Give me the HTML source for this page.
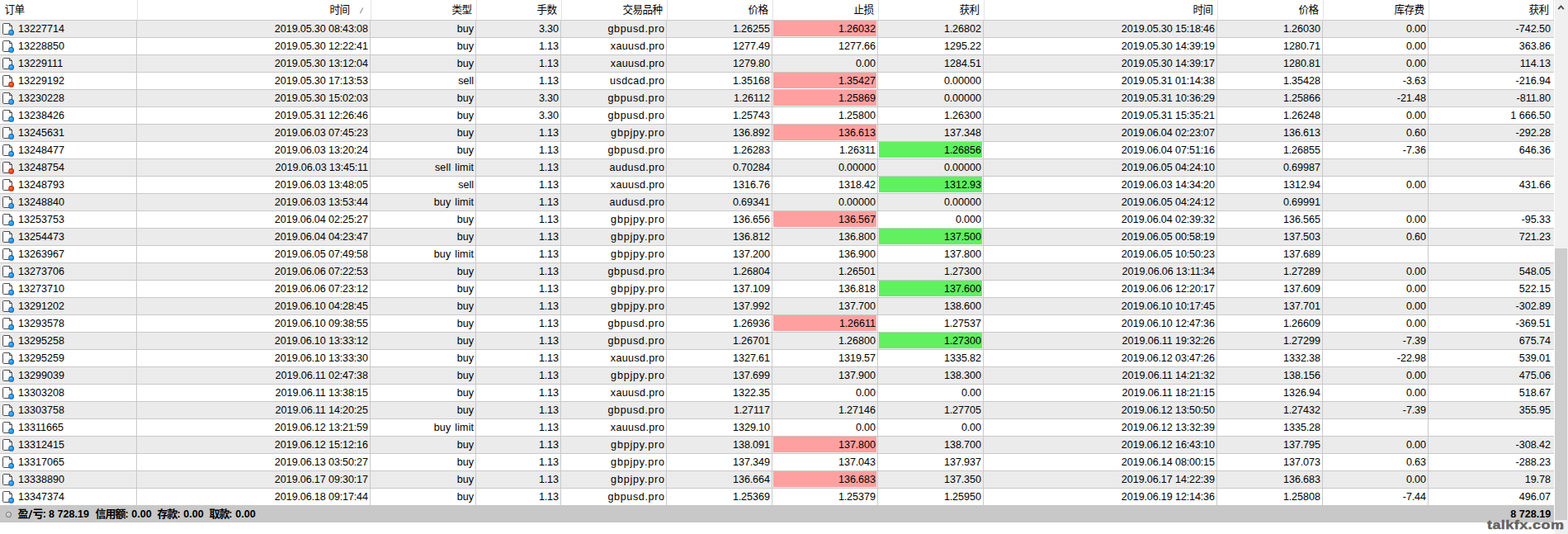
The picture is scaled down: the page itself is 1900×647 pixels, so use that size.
<!DOCTYPE html>
<html><head><meta charset="utf-8"><title>history</title>
<style>
html,body{margin:0;padding:0;background:#fff;}
body{width:1900px;height:647px;position:relative;overflow:hidden;font-family:"Liberation Sans",sans-serif;font-size:12.6px;color:#000;}
.a{position:absolute;display:block;}
.r{position:absolute;left:0;width:1883px;height:20px;}
.g{background:#ebebeb;}
.c{position:absolute;top:0px;height:20px;line-height:20px;white-space:pre;text-align:right;}
.o{left:22px;text-align:left;}
.hl{position:absolute;left:0;width:1883px;height:1px;background:#c9c9c9;}
.vl{position:absolute;top:24px;width:1px;height:588px;background:#c9c9c9;}
.hs{position:absolute;top:0;width:1px;height:24px;background:#e3e3e3;}
.p{position:absolute;top:0;height:19px;}
.ic{position:absolute;left:2px;top:2px;}
.b{font-weight:bold;}
i{font-style:normal;margin:0 -.23px;}
.k0,.k7{word-spacing:-.4px;}
.ht{font-family:"Liberation Sans","Noto Sans CJK SC",sans-serif;font-size:12.6px;fill:#000;}
.ft{font-family:"Liberation Sans","Noto Sans CJK SC",sans-serif;font-size:13px;font-weight:bold;fill:#000;}
</style></head><body>
<svg width="0" height="0" style="position:absolute"><defs>
<linearGradient id="pg" x1="0" y1="0" x2="1" y2="1"><stop offset="0" stop-color="#fff"/><stop offset=".55" stop-color="#fafafa"/><stop offset="1" stop-color="#d8d8d8"/></linearGradient>
<radialGradient id="bb" cx=".38" cy=".32" r=".75"><stop offset="0" stop-color="#5cbcfa"/><stop offset=".55" stop-color="#2a9cf0"/><stop offset="1" stop-color="#1a86dc"/></radialGradient>
<radialGradient id="rr" cx=".38" cy=".32" r=".75"><stop offset="0" stop-color="#ff7444"/><stop offset=".55" stop-color="#f24c14"/><stop offset="1" stop-color="#dc3c0a"/></radialGradient>
<g id="pgi"><path d="M2.7 1.5H9.5L12.5 4.5V13.3Q12.5 14.5 11.3 14.5H2.7Q1.5 14.5 1.5 13.3V2.7Q1.5 1.5 2.7 1.5Z" fill="url(#pg)" stroke="#4e4e4e" stroke-width="1"/><path d="M9.5 1.7V4.5H12.3Z" fill="#fff" stroke="#4e4e4e" stroke-width="1" stroke-linejoin="round"/></g>
<g id="ib"><use href="#pgi"/><circle cx="11.65" cy="12.45" r="3.35" fill="#0f5f9f"/><circle cx="11.65" cy="12.45" r="2.55" fill="url(#bb)"/></g>
<g id="ir"><use href="#pgi"/><circle cx="11.65" cy="12.45" r="3.35" fill="#a02c08"/><circle cx="11.65" cy="12.45" r="2.55" fill="url(#rr)"/></g>
</defs></svg>
<svg class="a" style="left:5px;top:3.35px;" width="26" height="18" viewBox="0 -2 26 18"><text class="ht" x="0.5 12.5" y="10.65">订单</text></svg><svg class="a" style="left:399px;top:3.35px;" width="26" height="18" viewBox="0 -2 26 18"><text class="ht" x="0.5 12.5" y="10.65">时间</text></svg><svg class="a" style="left:547px;top:3.35px;" width="26" height="18" viewBox="0 -2 26 18"><text class="ht" x="0.5 12.5" y="10.65">类型</text></svg><svg class="a" style="left:650px;top:3.35px;" width="26" height="18" viewBox="0 -2 26 18"><text class="ht" x="0.5 12.5" y="10.65">手数</text></svg><svg class="a" style="left:754px;top:3.35px;" width="50" height="18" viewBox="0 -2 50 18"><text class="ht" x="0.5 12.5 24.5 36.5" y="10.65">交易品种</text></svg><svg class="a" style="left:906px;top:3.35px;" width="26" height="18" viewBox="0 -2 26 18"><text class="ht" x="0.5 12.5" y="10.65">价格</text></svg><svg class="a" style="left:1034px;top:3.35px;" width="26" height="18" viewBox="0 -2 26 18"><text class="ht" x="0.5 12.5" y="10.65">止损</text></svg><svg class="a" style="left:1162px;top:3.35px;" width="26" height="18" viewBox="0 -2 26 18"><text class="ht" x="0.5 12.5" y="10.65">获利</text></svg><svg class="a" style="left:1445px;top:3.35px;" width="26" height="18" viewBox="0 -2 26 18"><text class="ht" x="0.5 12.5" y="10.65">时间</text></svg><svg class="a" style="left:1573px;top:3.35px;" width="26" height="18" viewBox="0 -2 26 18"><text class="ht" x="0.5 12.5" y="10.65">价格</text></svg><svg class="a" style="left:1689px;top:3.35px;" width="38" height="18" viewBox="0 -2 38 18"><text class="ht" x="0.5 12.5 24.5" y="10.65">库存费</text></svg><svg class="a" style="left:1851.5px;top:3.35px;" width="26" height="18" viewBox="0 -2 26 18"><text class="ht" x="0.5 12.5" y="10.65">获利</text></svg><div class="hs" style="left:166px"></div><div class="hs" style="left:449px"></div><div class="hs" style="left:577px"></div><div class="hs" style="left:680px"></div><div class="hs" style="left:808px"></div><div class="hs" style="left:936px"></div><div class="hs" style="left:1064px"></div><div class="hs" style="left:1192px"></div><div class="hs" style="left:1475px"></div><div class="hs" style="left:1603px"></div><div class="hs" style="left:1731px"></div><svg class="a" style="left:434px;top:8px" width="8" height="10"><path d="M2.4 8.2L5.8 1.4" stroke="#777" stroke-width="1" fill="none"/></svg><div class="r g" style="top:25px"><svg class="ic" width="16" height="18"><use href="#ib"/></svg><div class="c o">13227714</div><div class="c k0" style="left:166px;width:280.1px">2019<i>.</i>05<i>.</i>30 08<i>:</i>43<i>:</i>08</div><div class="c k1" style="left:449px;width:125.1px">buy</div><div class="c k2" style="left:577px;width:100.1px">3<i>.</i>30</div><div class="c k3" style="left:680px;width:125.73px;letter-spacing:0.63px">gbpusd.pro</div><div class="c k4" style="left:808px;width:125.1px">1<i>.</i>26255</div><div class="p" style="left:937px;width:125px;background:#ffa0a0"></div><div class="c k5" style="left:936px;width:125.1px">1<i>.</i>26032</div><div class="c k6" style="left:1064px;width:125.1px">1<i>.</i>26802</div><div class="c k7" style="left:1192px;width:280.1px">2019<i>.</i>05<i>.</i>30 15<i>:</i>18<i>:</i>46</div><div class="c k8" style="left:1475px;width:125.1px">1<i>.</i>26030</div><div class="c k9" style="left:1603px;width:125.1px">0<i>.</i>00</div><div class="c k10" style="left:1731px;width:147.9px">-742<i>.</i>50</div></div>
<div class="r" style="top:46px"><svg class="ic" width="16" height="18"><use href="#ib"/></svg><div class="c o">13228850</div><div class="c k0" style="left:166px;width:280.1px">2019<i>.</i>05<i>.</i>30 12<i>:</i>22<i>:</i>41</div><div class="c k1" style="left:449px;width:125.1px">buy</div><div class="c k2" style="left:577px;width:100.1px">1<i>.</i>13</div><div class="c k3" style="left:680px;width:125.43px;letter-spacing:0.33px">xauusd.pro</div><div class="c k4" style="left:808px;width:125.1px">1277<i>.</i>49</div><div class="c k5" style="left:936px;width:125.1px">1277<i>.</i>66</div><div class="c k6" style="left:1064px;width:125.1px">1295<i>.</i>22</div><div class="c k7" style="left:1192px;width:280.1px">2019<i>.</i>05<i>.</i>30 14<i>:</i>39<i>:</i>19</div><div class="c k8" style="left:1475px;width:125.1px">1280<i>.</i>71</div><div class="c k9" style="left:1603px;width:125.1px">0<i>.</i>00</div><div class="c k10" style="left:1731px;width:147.9px">363<i>.</i>86</div></div>
<div class="r g" style="top:67px"><svg class="ic" width="16" height="18"><use href="#ib"/></svg><div class="c o">13229111</div><div class="c k0" style="left:166px;width:280.1px">2019<i>.</i>05<i>.</i>30 13<i>:</i>12<i>:</i>04</div><div class="c k1" style="left:449px;width:125.1px">buy</div><div class="c k2" style="left:577px;width:100.1px">1<i>.</i>13</div><div class="c k3" style="left:680px;width:125.43px;letter-spacing:0.33px">xauusd.pro</div><div class="c k4" style="left:808px;width:125.1px">1279<i>.</i>80</div><div class="c k5" style="left:936px;width:125.1px">0<i>.</i>00</div><div class="c k6" style="left:1064px;width:125.1px">1284<i>.</i>51</div><div class="c k7" style="left:1192px;width:280.1px">2019<i>.</i>05<i>.</i>30 14<i>:</i>39<i>:</i>17</div><div class="c k8" style="left:1475px;width:125.1px">1280<i>.</i>81</div><div class="c k9" style="left:1603px;width:125.1px">0<i>.</i>00</div><div class="c k10" style="left:1731px;width:147.9px">114<i>.</i>13</div></div>
<div class="r" style="top:88px"><svg class="ic" width="16" height="18"><use href="#ir"/></svg><div class="c o">13229192</div><div class="c k0" style="left:166px;width:280.1px">2019<i>.</i>05<i>.</i>30 17<i>:</i>13<i>:</i>53</div><div class="c k1" style="left:449px;width:125.1px">sell</div><div class="c k2" style="left:577px;width:100.1px">1<i>.</i>13</div><div class="c k3" style="left:680px;width:125.51px;letter-spacing:0.41px">usdcad.pro</div><div class="c k4" style="left:808px;width:125.1px">1<i>.</i>35168</div><div class="p" style="left:937px;width:125px;background:#ffa0a0"></div><div class="c k5" style="left:936px;width:125.1px">1<i>.</i>35427</div><div class="c k6" style="left:1064px;width:125.1px">0<i>.</i>00000</div><div class="c k7" style="left:1192px;width:280.1px">2019<i>.</i>05<i>.</i>31 01<i>:</i>14<i>:</i>38</div><div class="c k8" style="left:1475px;width:125.1px">1<i>.</i>35428</div><div class="c k9" style="left:1603px;width:125.1px">-3<i>.</i>63</div><div class="c k10" style="left:1731px;width:147.9px">-216<i>.</i>94</div></div>
<div class="r g" style="top:109px"><svg class="ic" width="16" height="18"><use href="#ib"/></svg><div class="c o">13230228</div><div class="c k0" style="left:166px;width:280.1px">2019<i>.</i>05<i>.</i>30 15<i>:</i>02<i>:</i>03</div><div class="c k1" style="left:449px;width:125.1px">buy</div><div class="c k2" style="left:577px;width:100.1px">3<i>.</i>30</div><div class="c k3" style="left:680px;width:125.73px;letter-spacing:0.63px">gbpusd.pro</div><div class="c k4" style="left:808px;width:125.1px">1<i>.</i>26112</div><div class="p" style="left:937px;width:125px;background:#ffa0a0"></div><div class="c k5" style="left:936px;width:125.1px">1<i>.</i>25869</div><div class="c k6" style="left:1064px;width:125.1px">0<i>.</i>00000</div><div class="c k7" style="left:1192px;width:280.1px">2019<i>.</i>05<i>.</i>31 10<i>:</i>36<i>:</i>29</div><div class="c k8" style="left:1475px;width:125.1px">1<i>.</i>25866</div><div class="c k9" style="left:1603px;width:125.1px">-21<i>.</i>48</div><div class="c k10" style="left:1731px;width:147.9px">-811<i>.</i>80</div></div>
<div class="r" style="top:130px"><svg class="ic" width="16" height="18"><use href="#ib"/></svg><div class="c o">13238426</div><div class="c k0" style="left:166px;width:280.1px">2019<i>.</i>05<i>.</i>31 12<i>:</i>26<i>:</i>46</div><div class="c k1" style="left:449px;width:125.1px">buy</div><div class="c k2" style="left:577px;width:100.1px">3<i>.</i>30</div><div class="c k3" style="left:680px;width:125.73px;letter-spacing:0.63px">gbpusd.pro</div><div class="c k4" style="left:808px;width:125.1px">1<i>.</i>25743</div><div class="c k5" style="left:936px;width:125.1px">1<i>.</i>25800</div><div class="c k6" style="left:1064px;width:125.1px">1<i>.</i>26300</div><div class="c k7" style="left:1192px;width:280.1px">2019<i>.</i>05<i>.</i>31 15<i>:</i>35<i>:</i>21</div><div class="c k8" style="left:1475px;width:125.1px">1<i>.</i>26248</div><div class="c k9" style="left:1603px;width:125.1px">0<i>.</i>00</div><div class="c k10" style="left:1731px;width:147.9px">1 666<i>.</i>50</div></div>
<div class="r g" style="top:151px"><svg class="ic" width="16" height="18"><use href="#ib"/></svg><div class="c o">13245631</div><div class="c k0" style="left:166px;width:280.1px">2019<i>.</i>06<i>.</i>03 07<i>:</i>45<i>:</i>23</div><div class="c k1" style="left:449px;width:125.1px">buy</div><div class="c k2" style="left:577px;width:100.1px">1<i>.</i>13</div><div class="c k3" style="left:680px;width:125.89px;letter-spacing:0.79px">gbpjpy.pro</div><div class="c k4" style="left:808px;width:125.1px">136<i>.</i>892</div><div class="p" style="left:937px;width:125px;background:#ffa0a0"></div><div class="c k5" style="left:936px;width:125.1px">136<i>.</i>613</div><div class="c k6" style="left:1064px;width:125.1px">137<i>.</i>348</div><div class="c k7" style="left:1192px;width:280.1px">2019<i>.</i>06<i>.</i>04 02<i>:</i>23<i>:</i>07</div><div class="c k8" style="left:1475px;width:125.1px">136<i>.</i>613</div><div class="c k9" style="left:1603px;width:125.1px">0<i>.</i>60</div><div class="c k10" style="left:1731px;width:147.9px">-292<i>.</i>28</div></div>
<div class="r" style="top:172px"><svg class="ic" width="16" height="18"><use href="#ib"/></svg><div class="c o">13248477</div><div class="c k0" style="left:166px;width:280.1px">2019<i>.</i>06<i>.</i>03 13<i>:</i>20<i>:</i>24</div><div class="c k1" style="left:449px;width:125.1px">buy</div><div class="c k2" style="left:577px;width:100.1px">1<i>.</i>13</div><div class="c k3" style="left:680px;width:125.73px;letter-spacing:0.63px">gbpusd.pro</div><div class="c k4" style="left:808px;width:125.1px">1<i>.</i>26283</div><div class="c k5" style="left:936px;width:125.1px">1<i>.</i>26311</div><div class="p" style="left:1065px;width:125px;background:#60f060"></div><div class="c k6" style="left:1064px;width:125.1px">1<i>.</i>26856</div><div class="c k7" style="left:1192px;width:280.1px">2019<i>.</i>06<i>.</i>04 07<i>:</i>51<i>:</i>16</div><div class="c k8" style="left:1475px;width:125.1px">1<i>.</i>26855</div><div class="c k9" style="left:1603px;width:125.1px">-7<i>.</i>36</div><div class="c k10" style="left:1731px;width:147.9px">646<i>.</i>36</div></div>
<div class="r g" style="top:193px"><svg class="ic" width="16" height="18"><use href="#ir"/></svg><div class="c o">13248754</div><div class="c k0" style="left:166px;width:280.1px">2019<i>.</i>06<i>.</i>03 13<i>:</i>45<i>:</i>11</div><div class="c k1" style="left:449px;width:125.22px;letter-spacing:.12px;word-spacing:1.3px">sell limit</div><div class="c k2" style="left:577px;width:100.1px">1<i>.</i>13</div><div class="c k3" style="left:680px;width:125.51px;letter-spacing:0.41px">audusd.pro</div><div class="c k4" style="left:808px;width:125.1px">0<i>.</i>70284</div><div class="c k5" style="left:936px;width:125.1px">0<i>.</i>00000</div><div class="c k6" style="left:1064px;width:125.1px">0<i>.</i>00000</div><div class="c k7" style="left:1192px;width:280.1px">2019<i>.</i>06<i>.</i>05 04<i>:</i>24<i>:</i>10</div><div class="c k8" style="left:1475px;width:125.1px">0<i>.</i>69987</div></div>
<div class="r" style="top:214px"><svg class="ic" width="16" height="18"><use href="#ir"/></svg><div class="c o">13248793</div><div class="c k0" style="left:166px;width:280.1px">2019<i>.</i>06<i>.</i>03 13<i>:</i>48<i>:</i>05</div><div class="c k1" style="left:449px;width:125.1px">sell</div><div class="c k2" style="left:577px;width:100.1px">1<i>.</i>13</div><div class="c k3" style="left:680px;width:125.43px;letter-spacing:0.33px">xauusd.pro</div><div class="c k4" style="left:808px;width:125.1px">1316<i>.</i>76</div><div class="c k5" style="left:936px;width:125.1px">1318<i>.</i>42</div><div class="p" style="left:1065px;width:125px;background:#60f060"></div><div class="c k6" style="left:1064px;width:125.1px">1312<i>.</i>93</div><div class="c k7" style="left:1192px;width:280.1px">2019<i>.</i>06<i>.</i>03 14<i>:</i>34<i>:</i>20</div><div class="c k8" style="left:1475px;width:125.1px">1312<i>.</i>94</div><div class="c k9" style="left:1603px;width:125.1px">0<i>.</i>00</div><div class="c k10" style="left:1731px;width:147.9px">431<i>.</i>66</div></div>
<div class="r g" style="top:235px"><svg class="ic" width="16" height="18"><use href="#ib"/></svg><div class="c o">13248840</div><div class="c k0" style="left:166px;width:280.1px">2019<i>.</i>06<i>.</i>03 13<i>:</i>53<i>:</i>44</div><div class="c k1" style="left:449px;width:125.22px;letter-spacing:.12px;word-spacing:1.3px">buy limit</div><div class="c k2" style="left:577px;width:100.1px">1<i>.</i>13</div><div class="c k3" style="left:680px;width:125.51px;letter-spacing:0.41px">audusd.pro</div><div class="c k4" style="left:808px;width:125.1px">0<i>.</i>69341</div><div class="c k5" style="left:936px;width:125.1px">0<i>.</i>00000</div><div class="c k6" style="left:1064px;width:125.1px">0<i>.</i>00000</div><div class="c k7" style="left:1192px;width:280.1px">2019<i>.</i>06<i>.</i>05 04<i>:</i>24<i>:</i>12</div><div class="c k8" style="left:1475px;width:125.1px">0<i>.</i>69991</div></div>
<div class="r" style="top:256px"><svg class="ic" width="16" height="18"><use href="#ib"/></svg><div class="c o">13253753</div><div class="c k0" style="left:166px;width:280.1px">2019<i>.</i>06<i>.</i>04 02<i>:</i>25<i>:</i>27</div><div class="c k1" style="left:449px;width:125.1px">buy</div><div class="c k2" style="left:577px;width:100.1px">1<i>.</i>13</div><div class="c k3" style="left:680px;width:125.89px;letter-spacing:0.79px">gbpjpy.pro</div><div class="c k4" style="left:808px;width:125.1px">136<i>.</i>656</div><div class="p" style="left:937px;width:125px;background:#ffa0a0"></div><div class="c k5" style="left:936px;width:125.1px">136<i>.</i>567</div><div class="c k6" style="left:1064px;width:125.1px">0<i>.</i>000</div><div class="c k7" style="left:1192px;width:280.1px">2019<i>.</i>06<i>.</i>04 02<i>:</i>39<i>:</i>32</div><div class="c k8" style="left:1475px;width:125.1px">136<i>.</i>565</div><div class="c k9" style="left:1603px;width:125.1px">0<i>.</i>00</div><div class="c k10" style="left:1731px;width:147.9px">-95<i>.</i>33</div></div>
<div class="r g" style="top:277px"><svg class="ic" width="16" height="18"><use href="#ib"/></svg><div class="c o">13254473</div><div class="c k0" style="left:166px;width:280.1px">2019<i>.</i>06<i>.</i>04 04<i>:</i>23<i>:</i>47</div><div class="c k1" style="left:449px;width:125.1px">buy</div><div class="c k2" style="left:577px;width:100.1px">1<i>.</i>13</div><div class="c k3" style="left:680px;width:125.89px;letter-spacing:0.79px">gbpjpy.pro</div><div class="c k4" style="left:808px;width:125.1px">136<i>.</i>812</div><div class="c k5" style="left:936px;width:125.1px">136<i>.</i>800</div><div class="p" style="left:1065px;width:125px;background:#60f060"></div><div class="c k6" style="left:1064px;width:125.1px">137<i>.</i>500</div><div class="c k7" style="left:1192px;width:280.1px">2019<i>.</i>06<i>.</i>05 00<i>:</i>58<i>:</i>19</div><div class="c k8" style="left:1475px;width:125.1px">137<i>.</i>503</div><div class="c k9" style="left:1603px;width:125.1px">0<i>.</i>60</div><div class="c k10" style="left:1731px;width:147.9px">721<i>.</i>23</div></div>
<div class="r" style="top:298px"><svg class="ic" width="16" height="18"><use href="#ib"/></svg><div class="c o">13263967</div><div class="c k0" style="left:166px;width:280.1px">2019<i>.</i>06<i>.</i>05 07<i>:</i>49<i>:</i>58</div><div class="c k1" style="left:449px;width:125.22px;letter-spacing:.12px;word-spacing:1.3px">buy limit</div><div class="c k2" style="left:577px;width:100.1px">1<i>.</i>13</div><div class="c k3" style="left:680px;width:125.89px;letter-spacing:0.79px">gbpjpy.pro</div><div class="c k4" style="left:808px;width:125.1px">137<i>.</i>200</div><div class="c k5" style="left:936px;width:125.1px">136<i>.</i>900</div><div class="c k6" style="left:1064px;width:125.1px">137<i>.</i>800</div><div class="c k7" style="left:1192px;width:280.1px">2019<i>.</i>06<i>.</i>05 10<i>:</i>50<i>:</i>23</div><div class="c k8" style="left:1475px;width:125.1px">137<i>.</i>689</div></div>
<div class="r g" style="top:319px"><svg class="ic" width="16" height="18"><use href="#ib"/></svg><div class="c o">13273706</div><div class="c k0" style="left:166px;width:280.1px">2019<i>.</i>06<i>.</i>06 07<i>:</i>22<i>:</i>53</div><div class="c k1" style="left:449px;width:125.1px">buy</div><div class="c k2" style="left:577px;width:100.1px">1<i>.</i>13</div><div class="c k3" style="left:680px;width:125.73px;letter-spacing:0.63px">gbpusd.pro</div><div class="c k4" style="left:808px;width:125.1px">1<i>.</i>26804</div><div class="c k5" style="left:936px;width:125.1px">1<i>.</i>26501</div><div class="c k6" style="left:1064px;width:125.1px">1<i>.</i>27300</div><div class="c k7" style="left:1192px;width:280.1px">2019<i>.</i>06<i>.</i>06 13<i>:</i>11<i>:</i>34</div><div class="c k8" style="left:1475px;width:125.1px">1<i>.</i>27289</div><div class="c k9" style="left:1603px;width:125.1px">0<i>.</i>00</div><div class="c k10" style="left:1731px;width:147.9px">548<i>.</i>05</div></div>
<div class="r" style="top:340px"><svg class="ic" width="16" height="18"><use href="#ib"/></svg><div class="c o">13273710</div><div class="c k0" style="left:166px;width:280.1px">2019<i>.</i>06<i>.</i>06 07<i>:</i>23<i>:</i>12</div><div class="c k1" style="left:449px;width:125.1px">buy</div><div class="c k2" style="left:577px;width:100.1px">1<i>.</i>13</div><div class="c k3" style="left:680px;width:125.89px;letter-spacing:0.79px">gbpjpy.pro</div><div class="c k4" style="left:808px;width:125.1px">137<i>.</i>109</div><div class="c k5" style="left:936px;width:125.1px">136<i>.</i>818</div><div class="p" style="left:1065px;width:125px;background:#60f060"></div><div class="c k6" style="left:1064px;width:125.1px">137<i>.</i>600</div><div class="c k7" style="left:1192px;width:280.1px">2019<i>.</i>06<i>.</i>06 12<i>:</i>20<i>:</i>17</div><div class="c k8" style="left:1475px;width:125.1px">137<i>.</i>609</div><div class="c k9" style="left:1603px;width:125.1px">0<i>.</i>00</div><div class="c k10" style="left:1731px;width:147.9px">522<i>.</i>15</div></div>
<div class="r g" style="top:361px"><svg class="ic" width="16" height="18"><use href="#ib"/></svg><div class="c o">13291202</div><div class="c k0" style="left:166px;width:280.1px">2019<i>.</i>06<i>.</i>10 04<i>:</i>28<i>:</i>45</div><div class="c k1" style="left:449px;width:125.1px">buy</div><div class="c k2" style="left:577px;width:100.1px">1<i>.</i>13</div><div class="c k3" style="left:680px;width:125.89px;letter-spacing:0.79px">gbpjpy.pro</div><div class="c k4" style="left:808px;width:125.1px">137<i>.</i>992</div><div class="c k5" style="left:936px;width:125.1px">137<i>.</i>700</div><div class="c k6" style="left:1064px;width:125.1px">138<i>.</i>600</div><div class="c k7" style="left:1192px;width:280.1px">2019<i>.</i>06<i>.</i>10 10<i>:</i>17<i>:</i>45</div><div class="c k8" style="left:1475px;width:125.1px">137<i>.</i>701</div><div class="c k9" style="left:1603px;width:125.1px">0<i>.</i>00</div><div class="c k10" style="left:1731px;width:147.9px">-302<i>.</i>89</div></div>
<div class="r" style="top:382px"><svg class="ic" width="16" height="18"><use href="#ib"/></svg><div class="c o">13293578</div><div class="c k0" style="left:166px;width:280.1px">2019<i>.</i>06<i>.</i>10 09<i>:</i>38<i>:</i>55</div><div class="c k1" style="left:449px;width:125.1px">buy</div><div class="c k2" style="left:577px;width:100.1px">1<i>.</i>13</div><div class="c k3" style="left:680px;width:125.73px;letter-spacing:0.63px">gbpusd.pro</div><div class="c k4" style="left:808px;width:125.1px">1<i>.</i>26936</div><div class="p" style="left:937px;width:125px;background:#ffa0a0"></div><div class="c k5" style="left:936px;width:125.1px">1<i>.</i>26611</div><div class="c k6" style="left:1064px;width:125.1px">1<i>.</i>27537</div><div class="c k7" style="left:1192px;width:280.1px">2019<i>.</i>06<i>.</i>10 12<i>:</i>47<i>:</i>36</div><div class="c k8" style="left:1475px;width:125.1px">1<i>.</i>26609</div><div class="c k9" style="left:1603px;width:125.1px">0<i>.</i>00</div><div class="c k10" style="left:1731px;width:147.9px">-369<i>.</i>51</div></div>
<div class="r g" style="top:403px"><svg class="ic" width="16" height="18"><use href="#ib"/></svg><div class="c o">13295258</div><div class="c k0" style="left:166px;width:280.1px">2019<i>.</i>06<i>.</i>10 13<i>:</i>33<i>:</i>12</div><div class="c k1" style="left:449px;width:125.1px">buy</div><div class="c k2" style="left:577px;width:100.1px">1<i>.</i>13</div><div class="c k3" style="left:680px;width:125.73px;letter-spacing:0.63px">gbpusd.pro</div><div class="c k4" style="left:808px;width:125.1px">1<i>.</i>26701</div><div class="c k5" style="left:936px;width:125.1px">1<i>.</i>26800</div><div class="p" style="left:1065px;width:125px;background:#60f060"></div><div class="c k6" style="left:1064px;width:125.1px">1<i>.</i>27300</div><div class="c k7" style="left:1192px;width:280.1px">2019<i>.</i>06<i>.</i>11 19<i>:</i>32<i>:</i>26</div><div class="c k8" style="left:1475px;width:125.1px">1<i>.</i>27299</div><div class="c k9" style="left:1603px;width:125.1px">-7<i>.</i>39</div><div class="c k10" style="left:1731px;width:147.9px">675<i>.</i>74</div></div>
<div class="r" style="top:424px"><svg class="ic" width="16" height="18"><use href="#ib"/></svg><div class="c o">13295259</div><div class="c k0" style="left:166px;width:280.1px">2019<i>.</i>06<i>.</i>10 13<i>:</i>33<i>:</i>30</div><div class="c k1" style="left:449px;width:125.1px">buy</div><div class="c k2" style="left:577px;width:100.1px">1<i>.</i>13</div><div class="c k3" style="left:680px;width:125.43px;letter-spacing:0.33px">xauusd.pro</div><div class="c k4" style="left:808px;width:125.1px">1327<i>.</i>61</div><div class="c k5" style="left:936px;width:125.1px">1319<i>.</i>57</div><div class="c k6" style="left:1064px;width:125.1px">1335<i>.</i>82</div><div class="c k7" style="left:1192px;width:280.1px">2019<i>.</i>06<i>.</i>12 03<i>:</i>47<i>:</i>26</div><div class="c k8" style="left:1475px;width:125.1px">1332<i>.</i>38</div><div class="c k9" style="left:1603px;width:125.1px">-22<i>.</i>98</div><div class="c k10" style="left:1731px;width:147.9px">539<i>.</i>01</div></div>
<div class="r g" style="top:445px"><svg class="ic" width="16" height="18"><use href="#ib"/></svg><div class="c o">13299039</div><div class="c k0" style="left:166px;width:280.1px">2019<i>.</i>06<i>.</i>11 02<i>:</i>47<i>:</i>38</div><div class="c k1" style="left:449px;width:125.1px">buy</div><div class="c k2" style="left:577px;width:100.1px">1<i>.</i>13</div><div class="c k3" style="left:680px;width:125.89px;letter-spacing:0.79px">gbpjpy.pro</div><div class="c k4" style="left:808px;width:125.1px">137<i>.</i>699</div><div class="c k5" style="left:936px;width:125.1px">137<i>.</i>900</div><div class="c k6" style="left:1064px;width:125.1px">138<i>.</i>300</div><div class="c k7" style="left:1192px;width:280.1px">2019<i>.</i>06<i>.</i>11 14<i>:</i>21<i>:</i>32</div><div class="c k8" style="left:1475px;width:125.1px">138<i>.</i>156</div><div class="c k9" style="left:1603px;width:125.1px">0<i>.</i>00</div><div class="c k10" style="left:1731px;width:147.9px">475<i>.</i>06</div></div>
<div class="r" style="top:466px"><svg class="ic" width="16" height="18"><use href="#ib"/></svg><div class="c o">13303208</div><div class="c k0" style="left:166px;width:280.1px">2019<i>.</i>06<i>.</i>11 13<i>:</i>38<i>:</i>15</div><div class="c k1" style="left:449px;width:125.1px">buy</div><div class="c k2" style="left:577px;width:100.1px">1<i>.</i>13</div><div class="c k3" style="left:680px;width:125.43px;letter-spacing:0.33px">xauusd.pro</div><div class="c k4" style="left:808px;width:125.1px">1322<i>.</i>35</div><div class="c k5" style="left:936px;width:125.1px">0<i>.</i>00</div><div class="c k6" style="left:1064px;width:125.1px">0<i>.</i>00</div><div class="c k7" style="left:1192px;width:280.1px">2019<i>.</i>06<i>.</i>11 18<i>:</i>21<i>:</i>15</div><div class="c k8" style="left:1475px;width:125.1px">1326<i>.</i>94</div><div class="c k9" style="left:1603px;width:125.1px">0<i>.</i>00</div><div class="c k10" style="left:1731px;width:147.9px">518<i>.</i>67</div></div>
<div class="r g" style="top:487px"><svg class="ic" width="16" height="18"><use href="#ib"/></svg><div class="c o">13303758</div><div class="c k0" style="left:166px;width:280.1px">2019<i>.</i>06<i>.</i>11 14<i>:</i>20<i>:</i>25</div><div class="c k1" style="left:449px;width:125.1px">buy</div><div class="c k2" style="left:577px;width:100.1px">1<i>.</i>13</div><div class="c k3" style="left:680px;width:125.73px;letter-spacing:0.63px">gbpusd.pro</div><div class="c k4" style="left:808px;width:125.1px">1<i>.</i>27117</div><div class="c k5" style="left:936px;width:125.1px">1<i>.</i>27146</div><div class="c k6" style="left:1064px;width:125.1px">1<i>.</i>27705</div><div class="c k7" style="left:1192px;width:280.1px">2019<i>.</i>06<i>.</i>12 13<i>:</i>50<i>:</i>50</div><div class="c k8" style="left:1475px;width:125.1px">1<i>.</i>27432</div><div class="c k9" style="left:1603px;width:125.1px">-7<i>.</i>39</div><div class="c k10" style="left:1731px;width:147.9px">355<i>.</i>95</div></div>
<div class="r" style="top:508px"><svg class="ic" width="16" height="18"><use href="#ib"/></svg><div class="c o">13311665</div><div class="c k0" style="left:166px;width:280.1px">2019<i>.</i>06<i>.</i>12 13<i>:</i>21<i>:</i>59</div><div class="c k1" style="left:449px;width:125.22px;letter-spacing:.12px;word-spacing:1.3px">buy limit</div><div class="c k2" style="left:577px;width:100.1px">1<i>.</i>13</div><div class="c k3" style="left:680px;width:125.43px;letter-spacing:0.33px">xauusd.pro</div><div class="c k4" style="left:808px;width:125.1px">1329<i>.</i>10</div><div class="c k5" style="left:936px;width:125.1px">0<i>.</i>00</div><div class="c k6" style="left:1064px;width:125.1px">0<i>.</i>00</div><div class="c k7" style="left:1192px;width:280.1px">2019<i>.</i>06<i>.</i>12 13<i>:</i>32<i>:</i>39</div><div class="c k8" style="left:1475px;width:125.1px">1335<i>.</i>28</div></div>
<div class="r g" style="top:529px"><svg class="ic" width="16" height="18"><use href="#ib"/></svg><div class="c o">13312415</div><div class="c k0" style="left:166px;width:280.1px">2019<i>.</i>06<i>.</i>12 15<i>:</i>12<i>:</i>16</div><div class="c k1" style="left:449px;width:125.1px">buy</div><div class="c k2" style="left:577px;width:100.1px">1<i>.</i>13</div><div class="c k3" style="left:680px;width:125.89px;letter-spacing:0.79px">gbpjpy.pro</div><div class="c k4" style="left:808px;width:125.1px">138<i>.</i>091</div><div class="p" style="left:937px;width:125px;background:#ffa0a0"></div><div class="c k5" style="left:936px;width:125.1px">137<i>.</i>800</div><div class="c k6" style="left:1064px;width:125.1px">138<i>.</i>700</div><div class="c k7" style="left:1192px;width:280.1px">2019<i>.</i>06<i>.</i>12 16<i>:</i>43<i>:</i>10</div><div class="c k8" style="left:1475px;width:125.1px">137<i>.</i>795</div><div class="c k9" style="left:1603px;width:125.1px">0<i>.</i>00</div><div class="c k10" style="left:1731px;width:147.9px">-308<i>.</i>42</div></div>
<div class="r" style="top:550px"><svg class="ic" width="16" height="18"><use href="#ib"/></svg><div class="c o">13317065</div><div class="c k0" style="left:166px;width:280.1px">2019<i>.</i>06<i>.</i>13 03<i>:</i>50<i>:</i>27</div><div class="c k1" style="left:449px;width:125.1px">buy</div><div class="c k2" style="left:577px;width:100.1px">1<i>.</i>13</div><div class="c k3" style="left:680px;width:125.89px;letter-spacing:0.79px">gbpjpy.pro</div><div class="c k4" style="left:808px;width:125.1px">137<i>.</i>349</div><div class="c k5" style="left:936px;width:125.1px">137<i>.</i>043</div><div class="c k6" style="left:1064px;width:125.1px">137<i>.</i>937</div><div class="c k7" style="left:1192px;width:280.1px">2019<i>.</i>06<i>.</i>14 08<i>:</i>00<i>:</i>15</div><div class="c k8" style="left:1475px;width:125.1px">137<i>.</i>073</div><div class="c k9" style="left:1603px;width:125.1px">0<i>.</i>63</div><div class="c k10" style="left:1731px;width:147.9px">-288<i>.</i>23</div></div>
<div class="r g" style="top:571px"><svg class="ic" width="16" height="18"><use href="#ib"/></svg><div class="c o">13338890</div><div class="c k0" style="left:166px;width:280.1px">2019<i>.</i>06<i>.</i>17 09<i>:</i>30<i>:</i>17</div><div class="c k1" style="left:449px;width:125.1px">buy</div><div class="c k2" style="left:577px;width:100.1px">1<i>.</i>13</div><div class="c k3" style="left:680px;width:125.89px;letter-spacing:0.79px">gbpjpy.pro</div><div class="c k4" style="left:808px;width:125.1px">136<i>.</i>664</div><div class="p" style="left:937px;width:125px;background:#ffa0a0"></div><div class="c k5" style="left:936px;width:125.1px">136<i>.</i>683</div><div class="c k6" style="left:1064px;width:125.1px">137<i>.</i>350</div><div class="c k7" style="left:1192px;width:280.1px">2019<i>.</i>06<i>.</i>17 14<i>:</i>22<i>:</i>39</div><div class="c k8" style="left:1475px;width:125.1px">136<i>.</i>683</div><div class="c k9" style="left:1603px;width:125.1px">0<i>.</i>00</div><div class="c k10" style="left:1731px;width:147.9px">19<i>.</i>78</div></div>
<div class="r" style="top:592px"><svg class="ic" width="16" height="18"><use href="#ib"/></svg><div class="c o">13347374</div><div class="c k0" style="left:166px;width:280.1px">2019<i>.</i>06<i>.</i>18 09<i>:</i>17<i>:</i>44</div><div class="c k1" style="left:449px;width:125.1px">buy</div><div class="c k2" style="left:577px;width:100.1px">1<i>.</i>13</div><div class="c k3" style="left:680px;width:125.73px;letter-spacing:0.63px">gbpusd.pro</div><div class="c k4" style="left:808px;width:125.1px">1<i>.</i>25369</div><div class="c k5" style="left:936px;width:125.1px">1<i>.</i>25379</div><div class="c k6" style="left:1064px;width:125.1px">1<i>.</i>25950</div><div class="c k7" style="left:1192px;width:280.1px">2019<i>.</i>06<i>.</i>19 12<i>:</i>14<i>:</i>36</div><div class="c k8" style="left:1475px;width:125.1px">1<i>.</i>25808</div><div class="c k9" style="left:1603px;width:125.1px">-7<i>.</i>44</div><div class="c k10" style="left:1731px;width:147.9px">496<i>.</i>07</div></div>
<div class="hl" style="top:24px"></div><div class="hl" style="top:45px"></div><div class="hl" style="top:66px"></div><div class="hl" style="top:87px"></div><div class="hl" style="top:108px"></div><div class="hl" style="top:129px"></div><div class="hl" style="top:150px"></div><div class="hl" style="top:171px"></div><div class="hl" style="top:192px"></div><div class="hl" style="top:213px"></div><div class="hl" style="top:234px"></div><div class="hl" style="top:255px"></div><div class="hl" style="top:276px"></div><div class="hl" style="top:297px"></div><div class="hl" style="top:318px"></div><div class="hl" style="top:339px"></div><div class="hl" style="top:360px"></div><div class="hl" style="top:381px"></div><div class="hl" style="top:402px"></div><div class="hl" style="top:423px"></div><div class="hl" style="top:444px"></div><div class="hl" style="top:465px"></div><div class="hl" style="top:486px"></div><div class="hl" style="top:507px"></div><div class="hl" style="top:528px"></div><div class="hl" style="top:549px"></div><div class="hl" style="top:570px"></div><div class="hl" style="top:591px"></div><div class="vl" style="left:165px"></div><div class="vl" style="left:448px"></div><div class="vl" style="left:576px"></div><div class="vl" style="left:679px"></div><div class="vl" style="left:807px"></div><div class="vl" style="left:935px"></div><div class="vl" style="left:1063px"></div><div class="vl" style="left:1191px"></div><div class="vl" style="left:1474px"></div><div class="vl" style="left:1602px"></div><div class="vl" style="left:1730px"></div>
<div class="a" style="left:0;top:612px;width:1883px;height:21px;background:#c8c8c8"></div><svg class="a" style="left:5px;top:618px" width="12" height="12"><defs><linearGradient id="cg" x1="0" y1="0" x2="1" y2="1"><stop offset="0" stop-color="#f0f0f0"/><stop offset=".45" stop-color="#d2d2d2"/><stop offset="1" stop-color="#bcbcbc"/></linearGradient></defs><circle cx="5.9" cy="6" r="3.6" fill="#b4b4b4" opacity=".5"/><circle cx="5.45" cy="5.5" r="3.1" fill="url(#cg)" stroke="#747474" stroke-width="1"/></svg><svg class="a" style="left:20.5px;top:614.3px;" width="14" height="18" viewBox="0 -2 14 18"><text class="ft" x="0.5" y="11.44">盈</text></svg><svg class="a" style="left:33px;top:616px" width="8" height="14"><path d="M1.9 12.6L5.6 2.1" stroke="#000" stroke-width="1.55" fill="none"/></svg><svg class="a" style="left:38.6px;top:614.3px;" width="14" height="18" viewBox="0 -2 14 18"><text class="ft" x="0.5" y="11.44">亏</text></svg><div class="a b" style="left:51.7px;top:613px;height:21px;line-height:21px;white-space:pre">:</div><div class="a b" style="left:59px;top:613px;height:21px;line-height:21px;white-space:pre">8 728.19</div><svg class="a" style="left:115px;top:614.3px;" width="38" height="18" viewBox="0 -2 38 18"><text class="ft" x="0.5 12.5 24.5" y="11.44">信用额</text></svg><div class="a b" style="left:151.5px;top:613px;height:21px;line-height:21px;white-space:pre">:</div><div class="a b" style="left:159.3px;top:613px;height:21px;line-height:21px;white-space:pre">0.00</div><svg class="a" style="left:190px;top:614.3px;" width="26" height="18" viewBox="0 -2 26 18"><text class="ft" x="0.5 12.5" y="11.44">存款</text></svg><div class="a b" style="left:214.5px;top:613px;height:21px;line-height:21px;white-space:pre">:</div><div class="a b" style="left:222.3px;top:613px;height:21px;line-height:21px;white-space:pre">0.00</div><svg class="a" style="left:253px;top:614.3px;" width="26" height="18" viewBox="0 -2 26 18"><text class="ft" x="0.5 12.5" y="11.44">取款</text></svg><div class="a b" style="left:277.3px;top:613px;height:21px;line-height:21px;white-space:pre">:</div><div class="a b" style="left:285.2px;top:613px;height:21px;line-height:21px;white-space:pre">0.00</div><div class="a b" style="left:1780px;width:99.3px;top:613px;height:21px;line-height:21px;white-space:pre;text-align:right">8 728.19</div><div class="a" style="left:1884px;top:0;width:16px;height:647px;background:#f0f0f0"></div><div class="a" style="left:1884px;top:301px;width:15px;height:329px;background:#cdcdcd"></div><svg class="a" style="left:1883px;top:0" width="17" height="17"><path d="M5.2 11.2L8.5 7.4L11.8 11.2" fill="none" stroke="#505050" stroke-width="1.9"/></svg><svg class="a" style="left:1883px;top:630px" width="17" height="17"><path d="M7.7 9.6L8.5 10.4L9.3 9.6" fill="none" stroke="#505050" stroke-width="1.9"/></svg><div class="hs" style="left:1882px"></div><div class="a b" style="left:1801.5px;top:626px;font-size:15px;line-height:20px;color:#626262;white-space:pre;transform-origin:0 0;transform:scaleX(1.2);letter-spacing:.36px;-webkit-text-stroke:.45px #626262">talkfx.com</div>
</body></html>
